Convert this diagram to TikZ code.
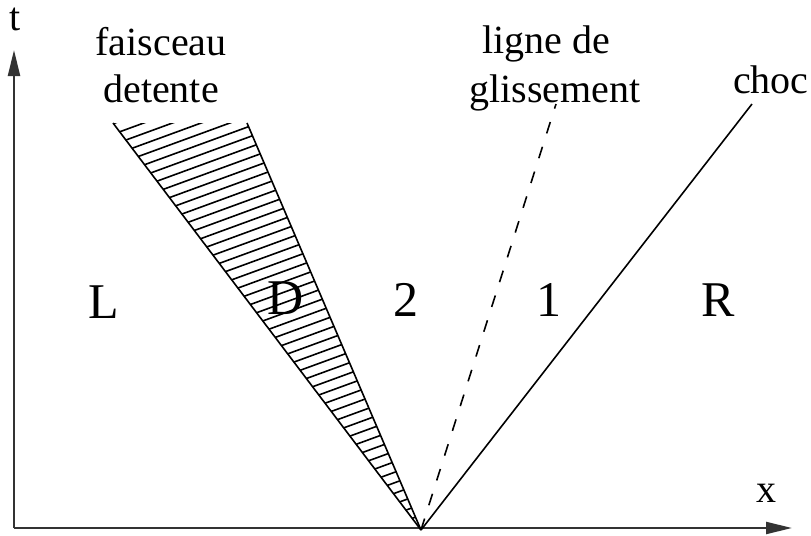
\documentclass[tikz,border=0pt]{standalone}
\usepackage{fontspec}
\setmainfont{Liberation Serif}
\usetikzlibrary{arrows.meta}
\begin{document}
\begin{tikzpicture}[x=0.5pt,y=-0.5pt,
  axis/.style={line width=1.1pt,draw=black!80,-{Triangle[length=13pt,width=6pt]}},
  wave/.style={line width=0.8pt},
  lbl/.style={font=\fontsize{20}{23}\selectfont,inner sep=0pt,anchor=base},
  region/.style={font=\fontsize{25}{28}\selectfont,inner sep=0pt}]
\useasboundingbox (0,0) rectangle (811,536);
\coordinate (O) at (421,530);
\coordinate (AX0) at (14,528);
\coordinate (AXx) at (792,528);
\coordinate (AXt) at (14,50);
\coordinate (FL) at (113,123);
\coordinate (FR) at (247,123);
\coordinate (G) at (556,104);
\coordinate (C) at (752,104);
% hatching of the fan
\begin{scope}
  \clip (O) -- (FL) -- (FR) -- cycle;
  \foreach \yy in {118,128.5,...,700}
    \draw[line width=0.8pt] (100,\yy) -- (450,\yy-128);
\end{scope}
% axes
\draw[axis] (AX0) -- (AXx);
\draw[axis] (AX0) -- (AXt);
% waves
\draw[wave] (O) -- (FL);
\draw[wave] (O) -- (FR);
\draw[wave,dash pattern=on 6pt off 7pt] (O) -- (G);
\draw[wave] (O) -- (C);
% labels
\node[lbl] (t) at (15,30) {t};
\node[lbl] (x) at (766,502) {x};
\node[lbl] (fd1) at (161,55) {faisceau};
\node[lbl] (fd2) at (161,102) {detente};
\node[lbl] (lg1) at (546,53) {ligne de};
\node[lbl] (lg2) at (555,102) {glissement};
\node[lbl,anchor=base east] (ch) at (809,93) {choc};
\node[region] (L) at (104,302) {L};
\node[region] (D) at (286,298) {D};
\node[region] (n2) at (406,300) {2};
\node[region] (n1) at (549,300) {1};
\node[region] (R) at (718,300) {R};
\end{tikzpicture}
\end{document}
